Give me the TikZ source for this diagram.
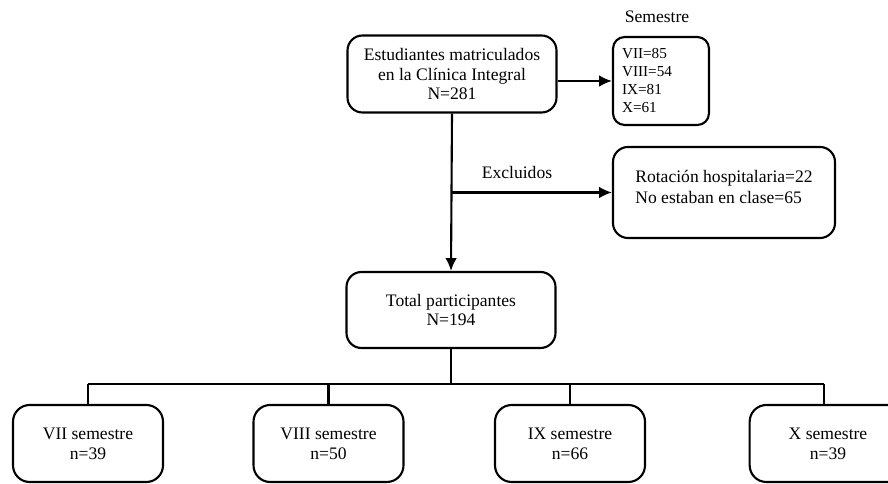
\documentclass[tikz,border=0pt]{standalone}
\usepackage{fontspec}
\setmainfont{Liberation Serif}
\usepackage{tikz}
\usetikzlibrary{arrows.meta}

\begin{document}
\begin{tikzpicture}[x=0.03cm, y=0.03cm,
  caja/.style={draw, line width=1.8pt, rounded corners=0.45cm, align=center, font=\fontsize{15}{17}\selectfont},
  linea/.style={line width=1.8pt},
  flecha/.style={line width=1.8pt, -{Latex[length=11pt, width=10pt]}}]
\useasboundingbox (0,0) rectangle (888,484);
\node[caja, minimum width=6.27cm, minimum height=2.31cm] (matric) at (452,410) {Estudiantes matriculados\\en la Cl\'inica Integral\\N=281};
\node[caja, align=left, rounded corners=0.35cm, inner xsep=0.27cm, text width=2.34cm, minimum height=2.64cm, font=\fontsize{13}{15.4}\selectfont] (sem) at (661,403) {\mbox{}\\[-7pt]VII=85\\VIII=54\\IX=81\\X=61};
\node[font=\fontsize{15}{17}\selectfont] (semlbl) at (657,467) {Semestre};
\node[caja, align=left, minimum width=6.66cm, minimum height=2.73cm, font=\fontsize{15}{18}\selectfont] (excl) at (724,291.5) {Rotaci\'on hospitalaria=22\\No estaban en clase=65\\[-9pt]};
\node[font=\fontsize{15}{17}\selectfont] (exclbl) at (517,312) {Excluidos};
\node[caja, minimum width=6.27cm, minimum height=2.28cm] (total) at (451,174) {Total participantes\\N=194};
\node[caja, rounded corners=0.5cm, minimum width=4.5cm, minimum height=2.31cm] (s7) at (88,40.5) {VII semestre\\n=39};
\node[caja, rounded corners=0.5cm, minimum width=4.5cm, minimum height=2.31cm] (s8) at (328.5,40.5) {VIII semestre\\n=50};
\node[caja, rounded corners=0.5cm, minimum width=4.5cm, minimum height=2.31cm] (s9) at (570,40.5) {IX semestre\\n=66};
\node[caja, rounded corners=0.5cm, minimum width=4.7cm, minimum height=2.31cm] (s10) at (828,40.5) {X semestre\\n=39};
\coordinate (cruce) at (matric.south |- excl.west);
\coordinate (rama) at (total.south |- 0,100);
\coordinate (pie10) at ([xshift=-0.12cm]s10.north);
\draw[flecha] (sem.west -| matric.east) -- (sem.west);
\draw[flecha] (matric.south) -- (total.north);
\draw[flecha] (cruce) -- (excl.west);
\draw[linea] (total.south) -- (rama);
\draw[linea] (s7.north |- rama) -- (pie10 |- rama);
\draw[linea] (s7.north |- rama) -- (s7.north);
\draw[linea] (s8.north |- rama) -- (s8.north);
\draw[linea] (s9.north |- rama) -- (s9.north);
\draw[linea] (pie10 |- rama) -- (pie10);
\end{tikzpicture}
\end{document}
